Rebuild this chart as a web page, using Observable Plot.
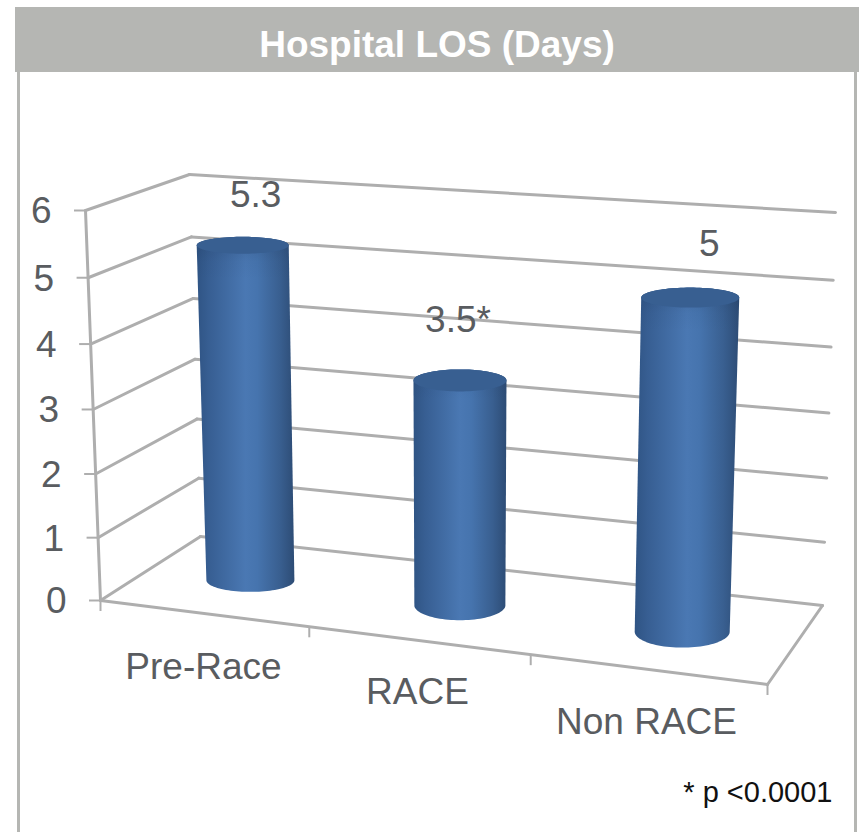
<!DOCTYPE html>
<html>
<head>
<meta charset="utf-8">
<script src="https://cdn.jsdelivr.net/npm/d3@7"></script>
<script src="https://cdn.jsdelivr.net/npm/@observablehq/plot@0.6"></script>
<style>
html,body{margin:0;padding:0;background:#fff;overflow:hidden}
#band{position:absolute;left:15px;top:7px;width:844px;height:65px;background:#b5b6b3;color:#fff;
font:bold 37px "Liberation Sans",Arial,sans-serif;line-height:75px;text-align:center;box-sizing:border-box;overflow:hidden}
#chart{position:absolute;left:0;top:72px}
svg{display:block}
</style>
</head>
<body>
<div id="band">Hospital LOS (Days)</div>
<div id="chart"></div>
<script>
// ---- data ----
const categories = ["Pre-Race", "RACE", "Non RACE"];
const values = [5.3, 3.5, 5];
const valueLabels = ["5.3", "3.5*", "5"];
const yTicks = [0, 1, 2, 3, 4, 5, 6];
const footnote = "* p <0.0001";
const title = "Hospital LOS (Days)";

// ---- 3D box layout (screen-space corners of the chart box) ----
const yMax = 6;
const persp = 0.04;
const floorQuad = {fl: [100, 600], fr: [767, 684], bl: [200, 536], br: [822, 605]};
const roofQuad  = {fl: [85, 210],  fr: [783, 258], bl: [189, 174], br: [835, 212]};
const lerp = (a, b, t) => a + (b - a) * t;
const quad = (q, u, d) => [0, 1].map(i => lerp(lerp(q.fl[i], q.fr[i], u), lerp(q.bl[i], q.br[i], u), d));
function project(u, d, v) {
  const a = quad(floorQuad, u, d), b = quad(roofQuad, u, d), s = v / yMax;
  const t = s * (1 - persp) / (1 - persp * s);
  return [lerp(a[0], b[0], t), lerp(a[1], b[1], t)];
}

// cylinder placement and shape
const barU = [0.155, 0.48, 0.825];
const barD = 0.5;
const topRx = [46, 46.5, 49], baseRx = [44, 45.5, 47.5];
const topRy = [8.5, 11, 10], baseRy = [11.5, 15, 16];
const labelDx = [13, -2, 19], labelDy = [-38, -48, -42];
const catAt = [[203, 678], [417, 703], [646, 733]];
const catTickU = [0.313, 0.645, 1];

const seg = (a, b) => [{x: a[0], y: a[1]}, {x: b[0], y: b[1]}];
const gridStroke = "#aeaeae", textColor = "#595c60";
const font = "Liberation Sans";

// grid lines
const wallLines = yTicks.flatMap(v => [
  ...seg(project(0, 0, v), project(0, 1, v)).map(p => ({...p, id: "L" + v})),
  ...seg(project(0, 1, v), project(1, 1, v)).map(p => ({...p, id: "B" + v}))
]);
const edgeLines = [
  ...seg(project(0, 0, 0), project(0, 0, yMax)).map(p => ({...p, id: "axis"})),
  ...seg(project(0, 0, 0), project(1, 0, 0)).map(p => ({...p, id: "front"})),
  ...seg(project(1, 0, 0), project(1, 1, 0)).map(p => ({...p, id: "right"}))
];
const yTickRules = yTicks.map(v => { const p = project(0, 0, v); return {x1: p[0] - 11, x2: p[0], y: p[1], v}; });
const catTickRules = [0, ...catTickU].map(u => { const p = project(u, 0, 0); return {x: p[0], y1: p[1], y2: p[1] + 11}; });

// cylinders
const ell = (c, rx, ry, a) => ({x: c[0] + rx * Math.cos(a), y: c[1] + ry * Math.sin(a)});
const angles = d3.range(0, 49).map(i => i / 48 * Math.PI);
const bars = categories.map((name, i) => {
  const base = project(barU[i], barD, 0), top = project(barU[i], barD, values[i]);
  const body = [
    ...angles.map(a => ell(base, baseRx[i], baseRy[i], a)),
    ...angles.map(a => ell(top, topRx[i], topRy[i], Math.PI + a))
  ];
  const cap = [...angles, ...angles.map(a => a + Math.PI)].map(a => ell(top, topRx[i], topRy[i], a));
  return {name, base, top, body, cap, label: valueLabels[i],
    lx: top[0] + labelDx[i], ly: top[1] + labelDy[i]};
});

const defs = () => {
  const d = d3.create("svg:defs");
  const body = d.append("linearGradient").attr("id", "cylBody");
  [[0, "#2f5484"], [0.12, "#375e92"], [0.5, "#4a78b3"], [0.62, "#4674ae"], [0.85, "#395f90"], [1, "#2d4c75"]]
    .forEach(([o, c]) => body.append("stop").attr("offset", o).attr("stop-color", c));
  const shade = d.append("linearGradient").attr("id", "cylShade").attr("x1", 0).attr("x2", 0).attr("y1", 0).attr("y2", 1);
  [[0, 0.28], [0.07, 0.05], [0.12, 0]].forEach(([o, a]) =>
    shade.append("stop").attr("offset", o).attr("stop-color", "#1d3557").attr("stop-opacity", a));
  return d.node();
};

const chart = Plot.plot({
  width: 859, height: 760,
  margin: 0,
  x: {type: "linear", domain: [0, 859], range: [0, 859], axis: null},
  y: {type: "linear", domain: [72, 832], range: [0, 760], axis: null},
  style: {background: "#fff", fontFamily: font},
  marks: [
    defs,
    Plot.ruleX([18, 855], {stroke: "#b5b6b3", strokeWidth: 3}),
    Plot.line(wallLines, {x: "x", y: "y", z: "id", stroke: gridStroke, strokeWidth: 3}),
    Plot.line(edgeLines, {x: "x", y: "y", z: "id", stroke: gridStroke, strokeWidth: 3}),
    Plot.ruleY(yTickRules, {x1: "x1", x2: "x2", y: "y", stroke: gridStroke, strokeWidth: 2}),
    Plot.ruleX(catTickRules, {x: "x", y1: "y1", y2: "y2", stroke: gridStroke, strokeWidth: 2}),
    ...bars.flatMap(b => [
      Plot.line(b.body, {x: "x", y: "y", fill: "url(#cylBody)", stroke: "none"}),
      Plot.line(b.body, {x: "x", y: "y", fill: "url(#cylShade)", stroke: "none"}),
      Plot.line(b.cap, {x: "x", y: "y", fill: "#385f91", stroke: "none"})
    ]),
    Plot.text(bars, {x: "lx", y: "ly", text: "label", fontSize: 37, fill: textColor, lineAnchor: "bottom", dy: 0}),
    Plot.text(yTickRules, {x: "x1", y: "y", text: d => String(d.v), fontSize: 37, fill: textColor, textAnchor: "end", dx: -23, dy: 1}),
    Plot.text(categories.map((c, i) => ({c, x: catAt[i][0], y: catAt[i][1]})), {x: "x", y: "y", text: "c", fontSize: 37, fill: textColor, lineAnchor: "bottom", dy: 0}),
    Plot.text([footnote], {x: () => 832, y: () => 802, text: d => d, fontSize: 29, fill: "#111", textAnchor: "end", lineAnchor: "bottom", dy: -1})
  ]
});
document.getElementById("chart").appendChild(chart);
document.getElementById("band").textContent = title;
</script>
</body>
</html>
